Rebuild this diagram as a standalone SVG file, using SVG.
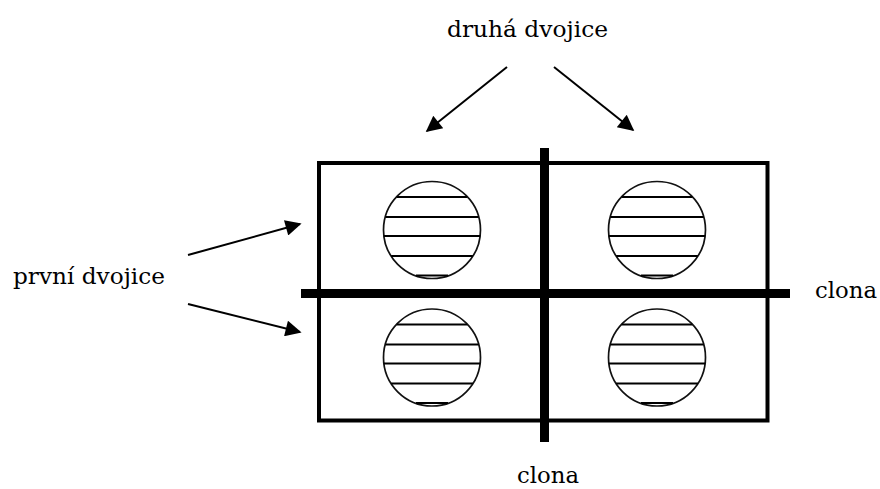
<svg xmlns="http://www.w3.org/2000/svg" width="880" height="489" viewBox="0 0 880 489">
  <style>
    .label { font-family: "DejaVu Serif", "Liberation Serif", serif; font-size: 22px; fill: #000; }
    .frame { fill: none; stroke: #000; stroke-width: 4; }
    .bar { fill: #000; }
    .disc { fill: #fff; stroke: #111; stroke-width: 1.7; }
    .stripe { stroke: #000; stroke-width: 2; }
    .arrow { stroke: #000; stroke-width: 2; fill: none; marker-end: url(#head); }
  </style>
  <defs>
    <marker id="head" viewBox="0 0 10 10" refX="9" refY="5" markerWidth="9" markerHeight="8" orient="auto" markerUnits="strokeWidth">
      <path d="M0,0 L10,5 L0,10 Z" fill="#000"/>
    </marker>
    <!-- striped disc centred at 0,0 -->
    <g id="lens">
      <circle class="disc" cx="0" cy="0" r="48.5"/>
      <line class="stripe" x1="-35.3" y1="-33" x2="35.3" y2="-33"/>
      <line class="stripe" x1="-46.6" y1="-13" x2="46.6" y2="-13"/>
      <line class="stripe" x1="-48.1" y1="6" x2="48.1" y2="6"/>
      <line class="stripe" x1="-40.9" y1="26" x2="40.9" y2="26"/>
      <line class="stripe" x1="-16" y1="45.5" x2="16" y2="45.5"/>
    </g>
  </defs>

  <g id="frame">
    <rect class="frame" x="319" y="163" width="448.5" height="257.5"/>
  </g>

  <g id="lens-top-left"><use href="#lens" x="432" y="230"/></g>
  <g id="lens-top-right"><use href="#lens" x="657" y="230"/></g>
  <g id="lens-bottom-left"><use href="#lens" x="432" y="357.5"/></g>
  <g id="lens-bottom-right"><use href="#lens" x="657" y="357.5"/></g>

  <g id="clona-vertical">
    <rect class="bar" x="540" y="148" width="9" height="294"/>
  </g>
  <g id="clona-horizontal">
    <rect class="bar" x="301" y="289" width="489" height="9"/>
  </g>

  <g id="connectors">
    <line class="arrow" x1="507" y1="67" x2="427" y2="131"/>
    <line class="arrow" x1="554" y1="67" x2="633" y2="130"/>
    <line class="arrow" x1="188" y1="255" x2="300" y2="224"/>
    <line class="arrow" x1="188" y1="304" x2="300" y2="332"/>
  </g>

  <g id="labels">
    <text class="label" x="527.5" y="37" text-anchor="middle" textLength="161" lengthAdjust="spacingAndGlyphs">druhá dvojice</text>
    <text class="label" x="13" y="284" textLength="152" lengthAdjust="spacingAndGlyphs">první dvojice</text>
    <text class="label" x="815" y="298" textLength="62" lengthAdjust="spacingAndGlyphs">clona</text>
    <text class="label" x="517" y="483" textLength="62" lengthAdjust="spacingAndGlyphs">clona</text>
  </g>
</svg>
